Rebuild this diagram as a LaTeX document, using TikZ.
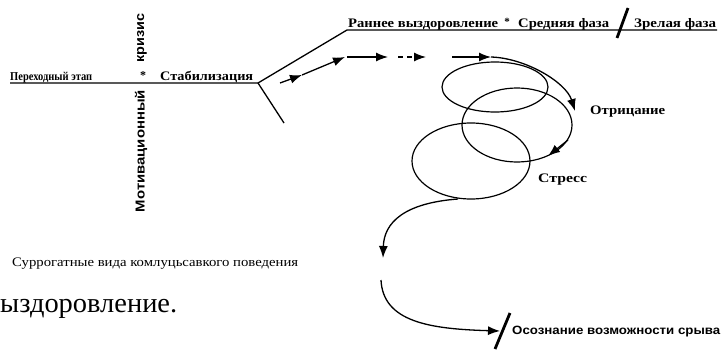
\documentclass[tikz,border=0pt]{standalone}
\usepackage{graphicx}
\usepackage{fontspec}
\setmainfont{Liberation Serif}
\newfontfamily\lsans{Liberation Sans}
\usetikzlibrary{arrows.meta}
\newcommand{\fw}[2]{\resizebox{#1pt}{\height}{#2}}
\tikzset{
  lbl/.style={inner sep=0pt, anchor=base west, font=\fontsize{13}{15}\selectfont\bfseries},
  vlbl/.style={inner sep=0pt, rotate=90, anchor=center, font=\lsans\fontsize{13}{15}\selectfont\bfseries},
  ln/.style={line width=1.3pt},
  arr/.style={line width=1.3pt, -{Latex[length=12pt,width=9pt]}},
  loop/.style={line width=1.2pt},
  slash/.style={line width=2.8pt}
}
\begin{document}
\begin{tikzpicture}[x=1pt,y=-1pt]
\useasboundingbox (0,0) rectangle (723,351);
% lines
\coordinate (L0) at (10,83);
\coordinate (J) at (258,83);
\coordinate (T0) at (347,30);
\coordinate (T1) at (717,30);
\coordinate (B0) at (284,123);
\draw[ln] (L0) -- (J) -- (T0) -- (T1);
\draw[ln] (J) -- (B0);
% labels on left line
\node[lbl, font=\fontsize{12}{14}\selectfont\bfseries] (pe) at (10,80) {\fw{82}{Переходный этап}};
\node[inner sep=0pt, font=\fontsize{12}{12}\selectfont\bfseries] (st1) at (143,76) {*};
\node[lbl] (sta) at (160,80) {\fw{93}{Стабилизация}};
\node[vlbl] (kr) at (142,38) {\fw{49}{кризис}};
\node[vlbl] (mo) at (141,151) {\fw{122}{Мотивационный}};
% labels on top line
\node[lbl] (ra) at (348,27) {\fw{150}{Раннее выздоровление}};
\node[inner sep=0pt, font=\fontsize{11}{11}\selectfont\bfseries] (st2) at (507,22) {*};
\node[lbl] (sr) at (518,27) {\fw{91}{Средняя фаза}};
\node[lbl] (zr) at (634,27) {\fw{82}{Зрелая фаза}};
\coordinate (S1) at (617,38);
\coordinate (S2) at (628,8);
\draw[slash] (S1) -- (S2);
% arrows toward spiral
\coordinate (A0) at (280,83);
\coordinate (A1) at (302,75);
\coordinate (A2) at (345,57);
\draw[arr] (A0) -- (A1);
\draw[arr] (A1) -- (A2);
\coordinate (A3) at (347,57);
\coordinate (A4) at (388,57);
\draw[arr] (A3) -- (A4);
\coordinate (A5) at (398,57);
\coordinate (A6) at (426,57);
\draw[arr, dash pattern=on 5pt off 4pt] (A5) -- (A6);
\coordinate (A7) at (452,57);
\coordinate (A8) at (491,57);
\draw[arr] (A7) -- (A8);
\coordinate (A9) at (575,111);
\draw[arr] (A8) .. controls (525,58) and (566,82) .. (A9);
% spiral loops
\draw[loop] (495,87) ellipse [x radius=53, y radius=25];
\draw[loop] (517,125) ellipse [x radius=55, y radius=37];
\draw[loop] (471,161) ellipse [x radius=59, y radius=38];
\coordinate (E1) at (568,140);
\coordinate (E2) at (548,156);
\draw[arr] (E1) -- (E2);
\node[lbl] (otr) at (590,114) {\fw{75}{Отрицание}};
\node[lbl] (str) at (538,182) {\fw{49}{Стресс}};
% tail
\coordinate (D0) at (458,199);
\coordinate (D1) at (383,258);
\draw[arr] (D0) .. controls (405,203) and (384,222) .. (D1);
\coordinate (D2) at (381,280);
\coordinate (D3) at (500,331);
\draw[arr] (D2) .. controls (383,322) and (430,329) .. (D3);
\coordinate (S3) at (495,349);
\coordinate (S4) at (510,313);
\draw[slash] (S3) -- (S4);
\node[inner sep=0pt, anchor=base west, font=\lsans\fontsize{12}{14}\selectfont\bfseries] (oso) at (512,334) {\fw{208}{Осознание возможности срыва}};
% caption texts
\node[inner sep=0pt, anchor=base west, font=\fontsize{13}{15}\selectfont] (sur) at (12,266) {\fw{286}{Суррогатные вида комлуцьсавкого поведения}};
\node[inner sep=0pt, anchor=base west, font=\fontsize{28}{30}\selectfont] (vyz) at (0,312) {\fw{177}{ыздоровление.}};
\end{tikzpicture}
\end{document}
